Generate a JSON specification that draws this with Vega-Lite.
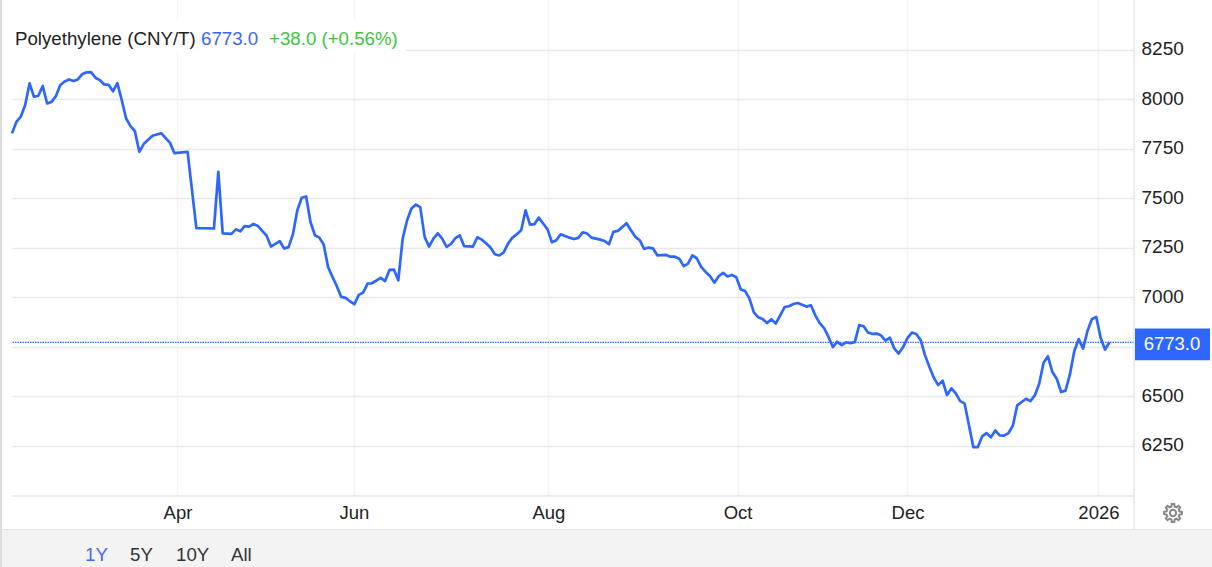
{"$schema":"https://vega.github.io/schema/vega-lite/v6.json","width":1122,"height":495.5,"autosize":{"type":"none"},"padding":{"left":12,"top":0,"right":78,"bottom":71.5},"background":"#ffffff","config":{"view":{"stroke":null},"font":"Liberation Sans"},"datasets":{"prices":[{"s":0,"p":7827},{"s":1,"p":7885},{"s":2,"p":7911},{"s":3,"p":7970},{"s":4,"p":8079},{"s":5,"p":8012},{"s":6,"p":8017},{"s":7,"p":8066},{"s":8,"p":7978},{"s":9,"p":7986},{"s":10,"p":8015},{"s":11,"p":8071},{"s":12,"p":8089},{"s":13,"p":8099},{"s":14,"p":8091},{"s":15,"p":8099},{"s":16,"p":8126},{"s":17,"p":8135},{"s":18,"p":8136},{"s":19,"p":8108},{"s":20,"p":8096},{"s":21,"p":8074},{"s":22,"p":8072},{"s":23,"p":8039},{"s":24,"p":8081},{"s":25,"p":7995},{"s":26,"p":7902},{"s":27,"p":7864},{"s":28,"p":7838},{"s":29,"p":7734},{"s":30,"p":7773},{"s":32,"p":7815},{"s":34,"p":7828},{"s":35,"p":7803},{"s":36,"p":7779},{"s":37,"p":7727},{"s":40,"p":7734},{"s":42,"p":7349},{"s":46,"p":7347},{"s":47,"p":7633},{"s":48,"p":7323},{"s":50,"p":7320},{"s":51,"p":7343},{"s":52,"p":7333},{"s":53,"p":7359},{"s":54,"p":7357},{"s":55,"p":7370},{"s":56,"p":7360},{"s":57,"p":7335},{"s":58,"p":7311},{"s":59,"p":7256},{"s":61,"p":7283},{"s":62,"p":7246},{"s":63,"p":7253},{"s":64,"p":7318},{"s":65,"p":7439},{"s":66,"p":7502},{"s":67,"p":7509},{"s":68,"p":7380},{"s":69,"p":7313},{"s":70,"p":7301},{"s":71,"p":7266},{"s":72,"p":7153},{"s":73,"p":7103},{"s":74,"p":7056},{"s":75,"p":7002},{"s":76,"p":6997},{"s":77,"p":6980},{"s":78,"p":6965},{"s":79,"p":7012},{"s":80,"p":7024},{"s":81,"p":7069},{"s":82,"p":7071},{"s":84,"p":7098},{"s":85,"p":7082},{"s":86,"p":7138},{"s":87,"p":7140},{"s":88,"p":7086},{"s":89,"p":7296},{"s":90,"p":7389},{"s":91,"p":7448},{"s":92,"p":7468},{"s":93,"p":7455},{"s":94,"p":7305},{"s":95,"p":7256},{"s":96,"p":7296},{"s":97,"p":7323},{"s":98,"p":7296},{"s":99,"p":7254},{"s":100,"p":7269},{"s":101,"p":7298},{"s":102,"p":7313},{"s":103,"p":7258},{"s":105,"p":7256},{"s":106,"p":7303},{"s":107,"p":7291},{"s":108,"p":7273},{"s":109,"p":7251},{"s":110,"p":7217},{"s":111,"p":7211},{"s":112,"p":7227},{"s":113,"p":7271},{"s":114,"p":7301},{"s":115,"p":7318},{"s":116,"p":7338},{"s":117,"p":7439},{"s":118,"p":7367},{"s":119,"p":7369},{"s":120,"p":7402},{"s":121,"p":7372},{"s":122,"p":7343},{"s":123,"p":7278},{"s":124,"p":7288},{"s":125,"p":7318},{"s":127,"p":7301},{"s":128,"p":7294},{"s":129,"p":7300},{"s":130,"p":7328},{"s":131,"p":7322},{"s":132,"p":7301},{"s":133,"p":7296},{"s":134,"p":7291},{"s":135,"p":7284},{"s":136,"p":7268},{"s":137,"p":7330},{"s":138,"p":7335},{"s":139,"p":7354},{"s":140,"p":7374},{"s":141,"p":7338},{"s":142,"p":7305},{"s":143,"p":7288},{"s":144,"p":7244},{"s":145,"p":7251},{"s":146,"p":7247},{"s":147,"p":7212},{"s":149,"p":7214},{"s":150,"p":7205},{"s":151,"p":7205},{"s":152,"p":7195},{"s":153,"p":7157},{"s":154,"p":7170},{"s":155,"p":7211},{"s":156,"p":7197},{"s":157,"p":7153},{"s":158,"p":7128},{"s":159,"p":7108},{"s":160,"p":7074},{"s":161,"p":7106},{"s":162,"p":7123},{"s":163,"p":7105},{"s":164,"p":7113},{"s":165,"p":7101},{"s":166,"p":7040},{"s":167,"p":7032},{"s":168,"p":6993},{"s":169,"p":6924},{"s":170,"p":6899},{"s":171,"p":6890},{"s":172,"p":6870},{"s":173,"p":6889},{"s":174,"p":6867},{"s":175,"p":6909},{"s":176,"p":6951},{"s":177,"p":6955},{"s":178,"p":6966},{"s":179,"p":6971},{"s":181,"p":6953},{"s":182,"p":6960},{"s":183,"p":6909},{"s":184,"p":6870},{"s":185,"p":6845},{"s":186,"p":6800},{"s":187,"p":6749},{"s":188,"p":6776},{"s":189,"p":6759},{"s":190,"p":6773},{"s":191,"p":6769},{"s":192,"p":6774},{"s":193,"p":6860},{"s":194,"p":6854},{"s":195,"p":6822},{"s":196,"p":6815},{"s":197,"p":6817},{"s":198,"p":6807},{"s":199,"p":6781},{"s":200,"p":6796},{"s":201,"p":6741},{"s":202,"p":6716},{"s":203,"p":6749},{"s":204,"p":6794},{"s":205,"p":6822},{"s":206,"p":6815},{"s":207,"p":6784},{"s":208,"p":6707},{"s":209,"p":6648},{"s":210,"p":6594},{"s":211,"p":6557},{"s":212,"p":6579},{"s":213,"p":6507},{"s":214,"p":6540},{"s":215,"p":6515},{"s":216,"p":6476},{"s":217,"p":6465},{"s":218,"p":6354},{"s":219,"p":6244},{"s":220,"p":6244},{"s":221,"p":6298},{"s":222,"p":6315},{"s":223,"p":6294},{"s":224,"p":6328},{"s":225,"p":6303},{"s":226,"p":6302},{"s":227,"p":6315},{"s":228,"p":6352},{"s":229,"p":6455},{"s":231,"p":6488},{"s":232,"p":6476},{"s":233,"p":6505},{"s":234,"p":6564},{"s":235,"p":6670},{"s":236,"p":6702},{"s":237,"p":6623},{"s":238,"p":6589},{"s":239,"p":6522},{"s":240,"p":6529},{"s":241,"p":6611},{"s":242,"p":6729},{"s":243,"p":6789},{"s":244,"p":6741},{"s":245,"p":6830},{"s":246,"p":6889},{"s":247,"p":6901},{"s":248,"p":6796},{"s":249,"p":6736},{"s":250,"p":6773}]},"data":{"name":"prices"},"layer":[{"mark":{"type":"line","strokeWidth":2.7,"color":"#2d67ff","interpolate":"linear","strokeJoin":"round","clip":false},"encoding":{"x":{"field":"s","type":"quantitative","title":null,"scale":{"domain":[0,255.6],"nice":false,"zero":false},"axis":{"orient":"bottom","values":[37.7,77.9,122.2,165.3,204,247.5],"labelExpr":"{'37.7':'Apr','77.9':'Jun','122.2':'Aug','165.3':'Oct','204':'Dec','247.5':'2026'}[datum.value]","grid":true,"gridColor":"#f1f4f8","gridWidth":1.5,"domain":true,"domainColor":"#e6e6e6","domainWidth":1.5,"ticks":false,"labelPadding":17,"labelFontSize":18.5,"labelColor":"#222222","labelFont":"Liberation Sans","labelBaseline":"middle","labelOverlap":false,"labelFlush":false}},"y":{"field":"p","type":"quantitative","title":null,"scale":{"domain":[6000,8500],"nice":false,"zero":false},"axis":{"orient":"right","values":[6250,6500,6750,7000,7250,7500,7750,8000,8250],"labelExpr":"datum.value==6750?'':format(datum.value,'d')","grid":true,"gridColor":"#e9e9e9","gridWidth":1.5,"domain":false,"ticks":false,"labelPadding":7,"labelOffset":-1,"labelFontSize":19,"labelColor":"#222222","labelFont":"Liberation Sans","labelBaseline":"middle"}}}},{"data":{"values":[{"last":6773}]},"mark":{"type":"rule","color":"#2d67ff","stroke":"#2d67ff","strokeWidth":1.2,"strokeDash":[1.5,1],"opacity":1},"encoding":{"y":{"field":"last","type":"quantitative"}}},{"data":{"values":[{"a":6843,"b":6682}]},"mark":{"type":"rect","color":"#2d67ff","clip":false},"encoding":{"x":{"value":1123},"x2":{"value":1198},"y":{"field":"a","type":"quantitative"},"y2":{"field":"b"}}},{"data":{"values":[{"t":"6773.0","v":6762}]},"mark":{"type":"text","color":"#ffffff","fontSize":18.5,"align":"center","baseline":"middle","clip":false},"encoding":{"x":{"value":1160},"y":{"field":"v","type":"quantitative"},"text":{"field":"t"}}},{"data":{"values":[{"c":"title backdrop"}]},"mark":{"type":"rect","color":"#ffffff","opacity":0.9,"clip":false},"encoding":{"x":{"value":0},"x2":{"value":394},"y":{"value":19},"y2":{"value":53}}},{"data":{"values":[{"c":"frame"}]},"mark":{"type":"rect","color":"#f3f3f3","clip":false},"encoding":{"x":{"value":-10},"x2":{"value":1200},"y":{"value":530},"y2":{"value":567}}},{"data":{"values":[{"c":"footer line"}]},"mark":{"type":"rule","color":"#e4e4e4","strokeWidth":1,"clip":false},"encoding":{"x":{"value":-10},"x2":{"value":1200},"y":{"value":529.5}}},{"data":{"values":[{"c":"left line"}]},"mark":{"type":"rule","color":"#dddddd","strokeWidth":2,"clip":false},"encoding":{"x":{"value":-11},"y":{"value":0},"y2":{"value":567}}},{"data":{"values":[{"c":"right line"}]},"mark":{"type":"rule","color":"#e6e6e6","strokeWidth":1.5,"clip":false},"encoding":{"x":{"value":1122},"y":{"value":0},"y2":{"value":529}}},{"data":{"values":[{"t":"Polyethylene (CNY/T)"}]},"mark":{"type":"text","color":"#222222","fontSize":18.7,"align":"left","baseline":"middle","clip":false},"encoding":{"x":{"value":3},"y":{"value":39},"text":{"field":"t"}}},{"data":{"values":[{"t":"6773.0"}]},"mark":{"type":"text","color":"#3a66f5","fontSize":18.7,"align":"left","baseline":"middle","clip":false},"encoding":{"x":{"value":189},"y":{"value":39},"text":{"field":"t"}}},{"data":{"values":[{"t":"+38.0 (+0.56%)"}]},"mark":{"type":"text","color":"#3ec43e","fontSize":18.7,"align":"left","baseline":"middle","clip":false},"encoding":{"x":{"value":257},"y":{"value":39},"text":{"field":"t"}}},{"data":{"values":[{"t":"1Y"}]},"mark":{"type":"text","color":"#4169f0","fontSize":18.7,"align":"left","baseline":"middle","clip":false},"encoding":{"x":{"value":73},"y":{"value":555},"text":{"field":"t"}}},{"data":{"values":[{"t":"5Y"}]},"mark":{"type":"text","color":"#333333","fontSize":18.7,"align":"left","baseline":"middle","clip":false},"encoding":{"x":{"value":118},"y":{"value":555},"text":{"field":"t"}}},{"data":{"values":[{"t":"10Y"}]},"mark":{"type":"text","color":"#333333","fontSize":18.7,"align":"left","baseline":"middle","clip":false},"encoding":{"x":{"value":164},"y":{"value":555},"text":{"field":"t"}}},{"data":{"values":[{"t":"All"}]},"mark":{"type":"text","color":"#333333","fontSize":18.7,"align":"left","baseline":"middle","clip":false},"encoding":{"x":{"value":219},"y":{"value":555},"text":{"field":"t"}}},{"data":{"values":[{"c":"gear"}]},"mark":{"type":"point","shape":"M.718,-.179L.990,-.139L.990,.139L.718,.179L.634,.381L.799,.602L.602,.799L.381,.634L.179,.718L.139,.990L-.139,.990L-.179,.718L-.381,.634L-.602,.799L-.799,.602L-.634,.381L-.718,.179L-.990,.139L-.990,-.139L-.718,-.179L-.634,-.381L-.799,-.602L-.602,-.799L-.381,-.634L-.179,-.718L-.139,-.990L.139,-.990L.179,-.718L.381,-.634L.602,-.799L.799,-.602L.634,-.381Z","size":324,"filled":false,"stroke":"#888888","strokeWidth":2,"opacity":1,"clip":false},"encoding":{"x":{"value":1161},"y":{"value":513}}},{"data":{"values":[{"c":"gear hub"}]},"mark":{"type":"point","shape":"circle","size":40,"filled":false,"stroke":"#888888","strokeWidth":2,"opacity":1,"clip":false},"encoding":{"x":{"value":1161},"y":{"value":513}}}]}
